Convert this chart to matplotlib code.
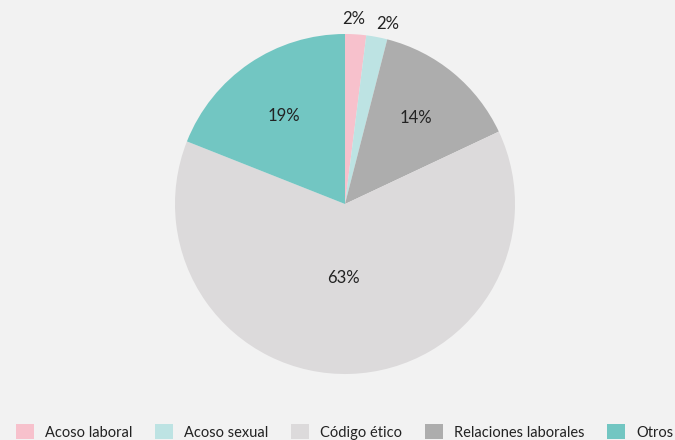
import numpy as np
import matplotlib.pyplot as plt
from matplotlib.patches import Patch

plt.rcParams['font.family'] = ['Lato', 'DejaVu Sans']

# pie order (clockwise from top)
pie_labels = ["Acoso laboral", "Acoso sexual", "Relaciones laborales", "Código ético", "Otros"]
pie_values = [2, 2, 14, 63, 19]
pie_colors = ["#f7c1cc", "#bde3e3", "#adadad", "#dcdadb", "#72c6c2"]

# label placement: radius fraction and small angle nudge (deg)
label_dist = [1.09, 1.09, 0.655, 0.435, 0.632]
label_nudge = [1.0, -2.5, 0, -3.0, 0.7]

# legend order
legend_labels = ["Acoso laboral", "Acoso sexual", "Código ético", "Relaciones laborales", "Otros"]

bg = "#f2f2f2"
fig = plt.figure(figsize=(6.75, 4.4), dpi=100, facecolor=bg)
ax = fig.add_axes([175/675, 66/440, 340/675, 340/440])
ax.set_facecolor(bg)

wedges, _ = ax.pie(pie_values, colors=pie_colors, startangle=90, counterclock=False,
                   radius=1, wedgeprops=dict(linewidth=0))
ax.set_xlim(-1, 1)
ax.set_ylim(-1, 1)
ax.set_aspect('equal')
ax.axis('off')

for w, v, d, n in zip(wedges, pie_values, label_dist, label_nudge):
    ang = np.deg2rad((w.theta1 + w.theta2) / 2 + n)
    ax.text(d*np.cos(ang), d*np.sin(ang), f"{v}%", ha='center', va='center',
            fontsize=12, color="#222222", clip_on=False)

color_map = dict(zip(pie_labels, pie_colors))
handles = [Patch(facecolor=color_map[l], edgecolor='none', label=l) for l in legend_labels]
fig.legend(handles=handles, loc='center left', bbox_to_anchor=(16/675, 1 - 432/440),
           ncol=5, frameon=False, fontsize=10.5, borderpad=0, borderaxespad=0,
           handlelength=1.23, handleheight=1.23, handletextpad=0.75, columnspacing=1.57,
           labelcolor="#222222")

fig.savefig("out.png", dpi=100, facecolor=bg)
